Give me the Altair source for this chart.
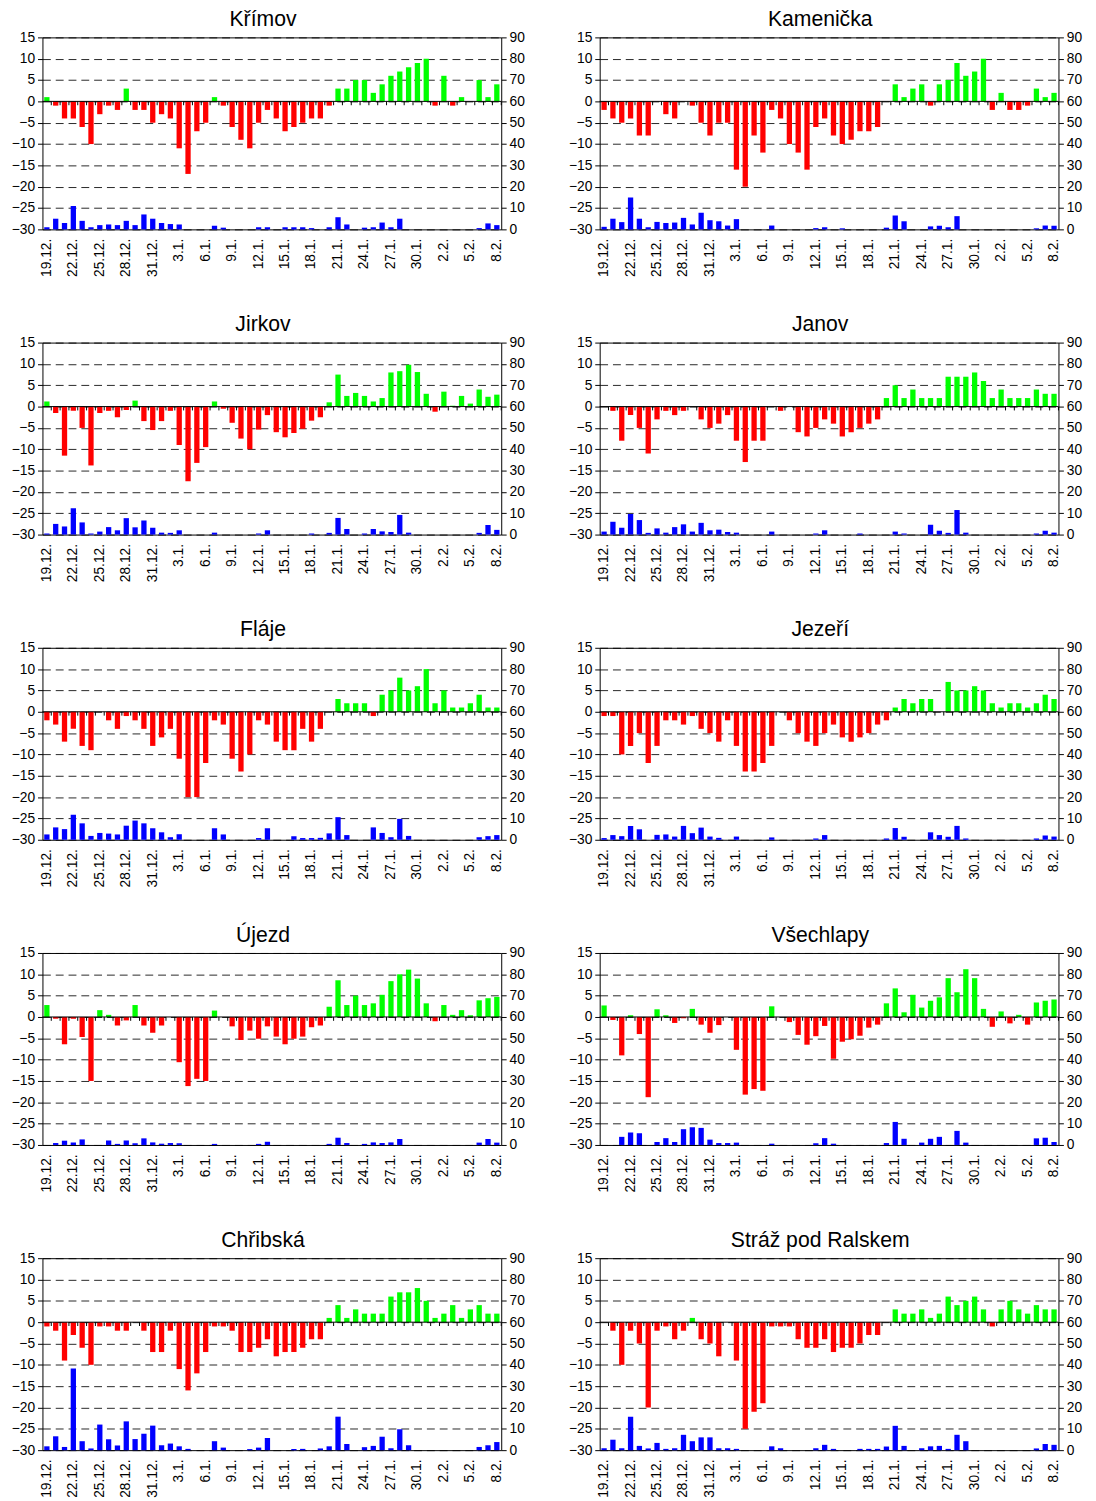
import altair as alt
import pandas as pd

FONT = "Liberation Sans"

dates = ["19.12.", "20.12.", "21.12.", "22.12.", "23.12.", "24.12.", "25.12.", "26.12.",
         "27.12.", "28.12.", "29.12.", "30.12.", "31.12.",
         "1.1.", "2.1.", "3.1.", "4.1.", "5.1.", "6.1.", "7.1.", "8.1.", "9.1.", "10.1.",
         "11.1.", "12.1.", "13.1.", "14.1.", "15.1.", "16.1.", "17.1.", "18.1.", "19.1.",
         "20.1.", "21.1.", "22.1.", "23.1.", "24.1.", "25.1.", "26.1.", "27.1.", "28.1.",
         "29.1.", "30.1.", "31.1.",
         "1.2.", "2.2.", "3.2.", "4.2.", "5.2.", "6.2.", "7.2.", "8.2."]

tick_labels = ["19.12.", "22.12.", "25.12.", "28.12.", "31.12.", "3.1.", "6.1.", "9.1.",
               "12.1.", "15.1.", "18.1.", "21.1.", "24.1.", "27.1.", "30.1.", "2.2.",
               "5.2.", "8.2."]

temp_ticks = [-30, -25, -20, -15, -10, -5, 0, 5, 10, 15]
prec_ticks = [0, 10, 20, 30, 40, 50, 60, 70, 80, 90]

stations = ["Křímov", "Kamenička", "Jirkov", "Janov", "Fláje", "Jezeří",
            "Újezd", "Všechlapy", "Chřibská", "Stráž pod Ralskem"]

krimov_t = [1, -1, -4, -4, -6, -10, -3, -1, -2, 3, -2, -2, -5, -3, -4, -11, -17, -7, -5, 1,
            -1, -6, -9, -11, -5, -2, -4, -7, -6, -5, -4, -4, -1, 3, 3, 5, 5, 2, 4, 6,
            7, 8, 9, 10, -1, 6, -1, 1, 0, 5, 1, 4]
krimov_p = [1, 5, 3, 11, 4, 1, 2, 2.3, 2, 4, 2, 7, 5, 3, 2.5, 2.3, 0, 0, 0, 1.7,
            0.8, 0, 0, 0, 1, 1, 0, 1, 1, 1, 0.6, 0, 1, 5.7, 2.3, 0, 0.8, 1, 3.2, 1,
            5, 0, 0, 0, 0, 0, 0, 0, 0, 0.6, 2.8, 2]

kamenicka_t = [-2, -4, -5, -4, -8, -8, 0, -3, -4, 0, -1, -5, -8, -5, -5, -16, -20, -8, -12, -2,
               -4, -10, -12, -16, -6, -4, -8, -10, -9, -7, -7, -6, 0, 4, 1, 3, 4, -1, 4, 5,
               9, 6, 7, 10, -2, 2, -2, -2, -1, 3, 1, 2]
kamenicka_p = [1.2, 5, 3.4, 15, 5, 1, 3.5, 3, 3.2, 5.4, 2.3, 7.8, 4.3, 3.8, 1.8, 4.8, 0, 0, 0, 1.8,
               0, 0, 0, 0, 0.6, 1, 0, 0.5, 0, 0, 0, 0, 0.8, 6.5, 3.8, 0, 0, 1.4, 1.7, 1,
               6.2, 0, 0, 0, 0, 0, 0, 0, 0, 0.5, 1.8, 1.7]

jirkov_t = [1.2, -1.5, -11.5, -1, -5, -13.8, -1.5, -1, -2.5, -0.8, 1.4, -3.4, -5.5, -3.4, -1,
            -9, -17.5, -13.2, -9.5, 1.2, -0.5, -3.8, -7.5, -10, -5.4, -2, -6, -7.2, -6.2, -5.2,
            -3.3, -2.5, 1, 7.5, 2.5, 3.2, 2.5, 1.2, 2, 8, 8.3, 9.8, 8.1, 3, -1.2, 3.5, 0.2,
            2.5, 0.7, 4, 2.3, 2.8]
jirkov_p = [0.5, 5, 3.8, 12.3, 5.7, 0.5, 1.4, 3.5, 2, 7.7, 3.4, 6.6, 3.2, 0.9, 0.8, 2, 0, 0, 0, 0.9,
            0, 0, 0, 0, 0.5, 2, 0, 0, 0, 0, 0.5, 0, 0.8, 7.8, 2.6, 0, 0.5, 2.6, 1.5, 1.2,
            9.2, 0.9, 0, 0, 0, 0, 0, 0, 0, 0.8, 4.5, 2.2]

janov_t = [0, -1, -8, -2, -5, -11, -3, -1, -2, -1, 0, -3, -5, -4, -2, -8, -13, -8, -8, 0,
           -1, 0, -6, -7, -5, -3, -4, -7, -6, -5, -4, -3, 2, 5, 2, 4, 2, 2, 2, 7,
           7, 7, 8, 6, 2, 4, 2, 2, 2, 4, 3, 3]
janov_p = [1.4, 6, 3.2, 9.7, 6.8, 0.8, 2.9, 0.9, 3.5, 4.8, 1.4, 5.5, 2, 2.3, 1.2, 0.9, 0, 0, 0, 1.4,
           0, 0, 0, 0, 0.5, 2, 0, 0, 0, 0.5, 0, 0, 0, 1.4, 0.5, 0, 0, 4.6, 1.8, 0.8,
           11.5, 0.9, 0, 0, 0, 0, 0, 0, 0, 0.5, 1.8, 0.9]

flaje_t = [-2, -3, -7, -4, -8, -9, 0, -2, -4, -1, -2, -4, -8, -6, -4, -11, -20, -20, -12, -2,
           -3, -11, -14, -10, -2, -3, -7, -9, -9, -4, -7, -4, 0, 3, 2, 2, 2, -1, 4, 5,
           8, 5, 6, 10, 2, 5, 1, 1, 2, 4, 1, 1]
flaje_p = [2.5, 5.8, 5, 11.7, 7.7, 1.8, 3.2, 2.9, 2.5, 6.6, 9, 7.7, 5.4, 3.5, 1.2, 2.6, 0, 0, 0, 5.4,
           2.5, 0, 0, 0, 0.8, 5.4, 0, 0, 1.7, 0.8, 0.8, 0.9, 3, 10.6, 2.2, 0, 0, 5.8, 3.2, 1.2,
           9.8, 1.8, 0, 0, 0, 0, 0, 0, 0, 1.2, 1.7, 2.2]

jezeri_t = [-1, -1, -10, -8, -5, -12, -8, -2, -2, -3, -1, -4, -5, -7, -2, -8, -14, -14, -12, -8,
            0, -2, -5, -7, -8, -5, -3, -6, -7, -6, -5, -3, -2, 1, 3, 2, 3, 3, 0, 7,
            5, 5, 6, 5, 2, 1, 2, 2, 1, 2, 4, 3]
jezeri_p = [0.8, 2.2, 1.7, 6.5, 4.9, 0, 2.3, 2.5, 1.5, 6.5, 3.1, 5.7, 1.5, 0.9, 0, 1.5, 0, 0, 0, 1.1,
            0, 0, 0, 0, 0.6, 2.2, 0, 0, 0, 0, 0, 0, 0.6, 5.5, 1.4, 0, 0, 3.5, 2.2, 1.4,
            6.5, 0.6, 0, 0, 0, 0, 0, 0, 0, 0.6, 2, 1.5]

ujezd_t = [2.8, -0.4, -6.4, -0.4, -4.7, -15, 1.6, 0.5, -2, -0.8, 2.8, -2, -3.7, -2, 0,
           -10.6, -16.2, -14.5, -15, 1.5, 0, -2.2, -5.4, -3.2, -5.1, -2.2, -4.6, -6.4, -5.1, -4.6,
           -2.4, -2, 2.4, 8.6, 2.8, 5, 2.8, 3.2, 5.2, 8.4, 10, 11.1, 9, 3.2, -1, 2.8, 0.5,
           1.6, 0.4, 3.9, 4.4, 4.7]
ujezd_p = [0, 0.9, 2, 1.1, 2.6, 0, 0, 2.1, 0.5, 2.1, 0.8, 3.1, 1.2, 0.6, 0.9, 0.8, 0, 0, 0, 0.5,
           0, 0, 0, 0, 0.5, 1.5, 0, 0, 0, 0, 0, 0, 0.5, 3.4, 0.9, 0, 0.5, 1.2, 0.9, 1.2,
           2.8, 0, 0, 0, 0, 0, 0, 0, 0, 1.1, 2.8, 1.1]

vsechlapy_t = [2.7, -0.7, -9, 0.4, -4, -18.8, 1.8, 0.4, -1.4, -0.3, 1.9, -1.8, -3.7, -1.9, 0,
               -7.7, -18.2, -16.9, -17.3, 2.5, 0, -1.2, -4.2, -6.5, -4.5, -2.1, -9.8, -5.8, -5.2,
               -4.4, -2.5, -1.8, 3.2, 6.7, 1.1, 5.2, 2.2, 3.8, 4.6, 9.1, 5.8, 11.2, 9.1, 1.9,
               -2.3, 1.3, -1.5, 0.5, -1.8, 3.4, 3.8, 4.1]
vsechlapy_p = [0, 0, 3.8, 5.8, 5.5, 0, 1.4, 3.2, 1.4, 7.4, 8.3, 8, 2.5, 0.9, 0.9, 1.1, 0, 0, 0, 0.6,
               0, 0, 0, 0, 0.8, 3.2, 0.6, 0, 0, 0, 0, 0, 0.9, 10.8, 2.9, 0, 1.1, 2.9, 3.8, 0,
               6.6, 1.1, 0, 0, 0, 0, 0, 0, 0, 3.1, 3.4, 1.4]

chribska_t = [-1, -2, -9, -3, -6, -10, -1, -1, -2, -2, 0, -2, -7, -7, -2, -11, -16, -12, -7, -1,
              -1, -2, -7, -7, -6, -4, -8, -7, -7, -6, -4, -4, 1, 4, 1, 3, 2, 2, 2, 6,
              7, 7, 8, 5, 1, 2, 4, 1, 3, 4, 2, 2]
chribska_p = [1.8, 6.5, 1.5, 38.3, 4.2, 0.8, 12, 5.1, 2.2, 13.5, 5.2, 7.7, 11.5, 2.3, 3.1, 1.8,
              0.6, 0, 0, 4.2, 1.2, 0, 0, 0.5, 1.2, 5.7, 0, 0, 0.6, 0.6, 0, 0.8, 1.8, 15.7, 2.9,
              0, 1.4, 2, 6.3, 0.9, 9.8, 2.3, 0, 0, 0, 0, 0, 0, 0, 1.5, 2.3, 3.8]

straz_t = [0, -2, -10, -2, -5, -20, -2, -1, -4, -2, 1, -4, -5, -8, 0, -9, -25, -21, -19, -1,
           -1, -1, -4, -6, -6, -4, -7, -6, -6, -5, -3, -3, 0, 3, 2, 2, 3, 1, 2, 6,
           4, 5, 6, 3, -1, 3, 5, 3, 2, 4, 3, 3]
straz_p = [0.9, 4.9, 0.9, 15.7, 2, 0.8, 3.4, 0.6, 0.9, 7.2, 4.2, 6, 6, 0.9, 0.9, 0.6, 0, 0, 0, 1.8,
           0.9, 0, 0, 0, 0.9, 2.5, 0.6, 0, 0, 0.6, 0.6, 0.6, 1.7, 11.4, 2, 0, 0.9, 1.8, 2, 0.6,
           7.2, 4.2, 0, 0, 0, 0, 0, 0, 0, 0.8, 2.9, 2.5]

temps = [krimov_t, kamenicka_t, jirkov_t, janov_t, flaje_t, jezeri_t,
         ujezd_t, vsechlapy_t, chribska_t, straz_t]
precs = [krimov_p, kamenicka_p, jirkov_p, janov_p, flaje_p, jezeri_p,
         ujezd_p, vsechlapy_p, chribska_p, straz_p]

W, H = 466, 195
STEP = W / len(dates)


def panel(name, t, p):
    df = pd.DataFrame({"date": dates, "temp": t, "prec": p})
    xs = alt.Scale(paddingInner=0.4, paddingOuter=0.2)
    x_enc = alt.X("date:N", sort=dates, scale=xs, title=None,
                  axis=alt.Axis(values=tick_labels, labelAngle=-90, ticks=False,
                                domain=False, labelPadding=9, grid=False))
    tscale = alt.Scale(domain=[-30, 15], nice=False, zero=False)

    temp = alt.Chart(df).mark_bar().encode(
        x=x_enc,
        y=alt.Y("temp:Q", scale=tscale, title=None,
                axis=alt.Axis(orient="left", values=temp_ticks, grid=True,
                              gridDash=[8, 5], gridColor="black", gridOpacity=0.85,
                              tickSize=5, domain=False, labelPadding=3)),
        color=alt.condition(alt.datum.temp < 0, alt.value("#FF0000"), alt.value("#00FF00")),
    )
    prec = alt.Chart(df).mark_bar(color="#0000FF").encode(
        x=x_enc,
        y=alt.Y("prec:Q", scale=alt.Scale(domain=[0, 90], nice=False), title=None,
                axis=alt.Axis(orient="right", values=prec_ticks, grid=False,
                              tickSize=5, domain=False, labelPadding=3)),
    )
    zero = alt.Chart(pd.DataFrame({"v": [0]})).mark_rule(color="black").encode(
        y=alt.Y("v:Q", scale=tscale, axis=None)
    )
    ticks = alt.Chart(df).mark_rule(color="black", xOffset=STEP / 2).encode(
        x=x_enc,
        y=alt.YDatum(0, scale=tscale, axis=None),
        y2=alt.Y2Datum(-0.9),
    )
    return alt.layer(temp, prec, zero, ticks).resolve_scale(y="independent").properties(
        width=W, height=H,
        title=alt.TitleParams(name, fontSize=21.5, font=FONT, fontWeight="normal",
                              color="black", offset=0, dx=-9),
    )


panels = [panel(n, t, p) for n, t, p in zip(stations, temps, precs)]
rows = [alt.hconcat(panels[i], panels[i + 1], spacing=42) for i in range(0, 10, 2)]

chart = alt.vconcat(*rows, spacing=37).configure_view(
    stroke="black", strokeWidth=1
).configure_axis(
    labelFont=FONT, labelFontSize=14, labelColor="black",
    tickColor="black", domainColor="black",
).properties(padding={"left": 2, "top": -11, "right": 5, "bottom": 5})

chart.save("out.html", embed_options={"renderer": "svg", "actions": False})
